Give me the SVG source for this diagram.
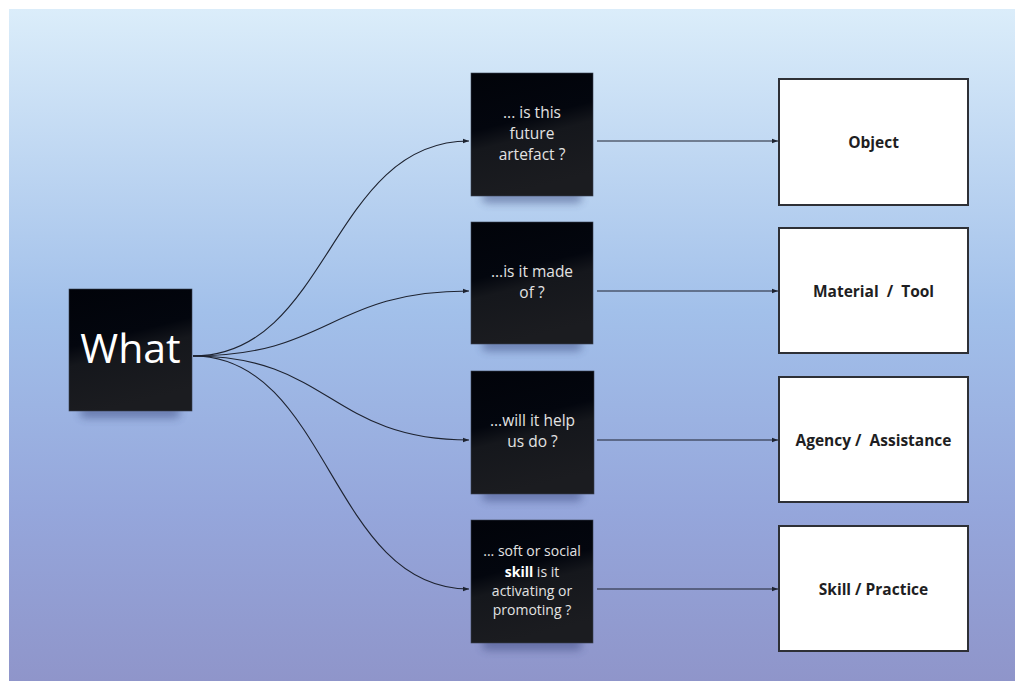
<svg xmlns="http://www.w3.org/2000/svg" width="1015" height="681" viewBox="0 0 1015 681">
<defs>
<linearGradient id="bg" x1="0" y1="0" x2="0" y2="1">
<stop offset="0" stop-color="#dbedfa"/>
<stop offset="0.45" stop-color="#a2c0ea"/>
<stop offset="0.75" stop-color="#95a6db"/>
<stop offset="1" stop-color="#8f95ca"/>
</linearGradient>
<linearGradient id="note" x1="0" y1="0" x2="0.25" y2="1">
<stop offset="0" stop-color="#010309"/>
<stop offset="0.45" stop-color="#03060e"/>
<stop offset="0.6" stop-color="#15171c"/>
<stop offset="1" stop-color="#1b1c20"/>
</linearGradient>
<filter id="blur" x="-30%" y="-100%" width="160%" height="300%">
<feGaussianBlur stdDeviation="4"/>
</filter>
<marker id="arr" viewBox="0 0 6 6" refX="6" refY="3" markerWidth="6" markerHeight="6" markerUnits="userSpaceOnUse" orient="auto">
<path d="M0,0.8 L6,3 L0,5.2 Z" fill="#1e2330"/>
</marker>
<g id="shadow">
<rect x="10" y="-8" width="100" height="12" rx="5" fill="#2a3770" opacity="0.45" filter="url(#blur)"/>
</g>
</defs>
<style>
.note{fill:url(#note);stroke:#3a4250;stroke-width:0.6}
.box{fill:#ffffff;stroke:#2e3036;stroke-width:2}
.nt{font-family:"Open Sans","Noto Sans","Liberation Sans",sans-serif;font-size:15.5px;fill:#e2e2e2;text-anchor:middle}
.s4{font-size:14px}
.bt{font-family:"Open Sans","Noto Sans","Liberation Sans",sans-serif;font-size:15.5px;font-weight:bold;fill:#1e1e22;text-anchor:middle}
.wt{font-family:"Open Sans","Noto Sans","Liberation Sans",sans-serif;font-size:41px;fill:#ffffff;text-anchor:middle}
.c{fill:none;stroke:#1e2330;stroke-width:1.1;marker-end:url(#arr)}
</style>
<rect x="0" y="0" width="1015" height="681" fill="#ffffff"/>
<rect x="9" y="9" width="1006" height="672" fill="url(#bg)"/>

<g id="connectors">
<path class="c" d="M193,356 C330,356 330,141 469,141"/>
<path class="c" d="M193,356 C330,356 330,291 469,291"/>
<path class="c" d="M193,356 C330,356 330,440 469,440"/>
<path class="c" d="M193,356 C330,356 330,589 469,589"/>
<path class="c" d="M597,141 L778,141"/>
<path class="c" d="M597,291 L778,291"/>
<path class="c" d="M597,440 L778,440"/>
<path class="c" d="M597,589 L778,589"/>
</g>

<g id="what">
<use href="#shadow" transform="translate(70,414)"/>
<rect class="note" x="69" y="289" width="123" height="122"/>
<text class="wt" x="130.5" y="363">What</text>
</g>

<g id="q1">
<use href="#shadow" transform="translate(472,199)"/>
<rect class="note" x="471" y="73" width="122" height="123"/>
<text class="nt" x="532" y="118">... is this</text>
<text class="nt" x="532" y="139">future</text>
<text class="nt" x="532" y="160">artefact ?</text>
</g>

<g id="q2">
<use href="#shadow" transform="translate(472,347)"/>
<rect class="note" x="471" y="222" width="122" height="122"/>
<text class="nt" x="532" y="277">...is it made</text>
<text class="nt" x="532" y="298">of ?</text>
</g>

<g id="q3">
<use href="#shadow" transform="translate(472,497)"/>
<rect class="note" x="471" y="371" width="123" height="123"/>
<text class="nt" x="532.5" y="426">...will it help</text>
<text class="nt" x="532.5" y="447">us do ?</text>
</g>

<g id="q4">
<use href="#shadow" transform="translate(472,646)"/>
<rect class="note" x="471" y="520" width="122" height="123"/>
<text class="nt s4" x="532" y="556">... soft or social</text>
<text class="nt s4" x="532" y="577"><tspan font-weight="bold" fill="#ffffff">skill</tspan> is it</text>
<text class="nt s4" x="532" y="596">activating or</text>
<text class="nt s4" x="532" y="615">promoting ?</text>
</g>

<g id="b1">
<rect class="box" x="779" y="79" width="189" height="126"/>
<text class="bt" x="873.5" y="147.5">Object</text>
</g>
<g id="b2">
<rect class="box" x="779" y="228" width="189" height="125"/>
<text class="bt" x="873.5" y="296.5" xml:space="preserve">Material  /  Tool</text>
</g>
<g id="b3">
<rect class="box" x="779" y="377" width="189" height="125"/>
<text class="bt" x="873.5" y="445.5" xml:space="preserve">Agency /  Assistance</text>
</g>
<g id="b4">
<rect class="box" x="779" y="526" width="189" height="125"/>
<text class="bt" x="873.5" y="594.5">Skill / Practice</text>
</g>
</svg>
